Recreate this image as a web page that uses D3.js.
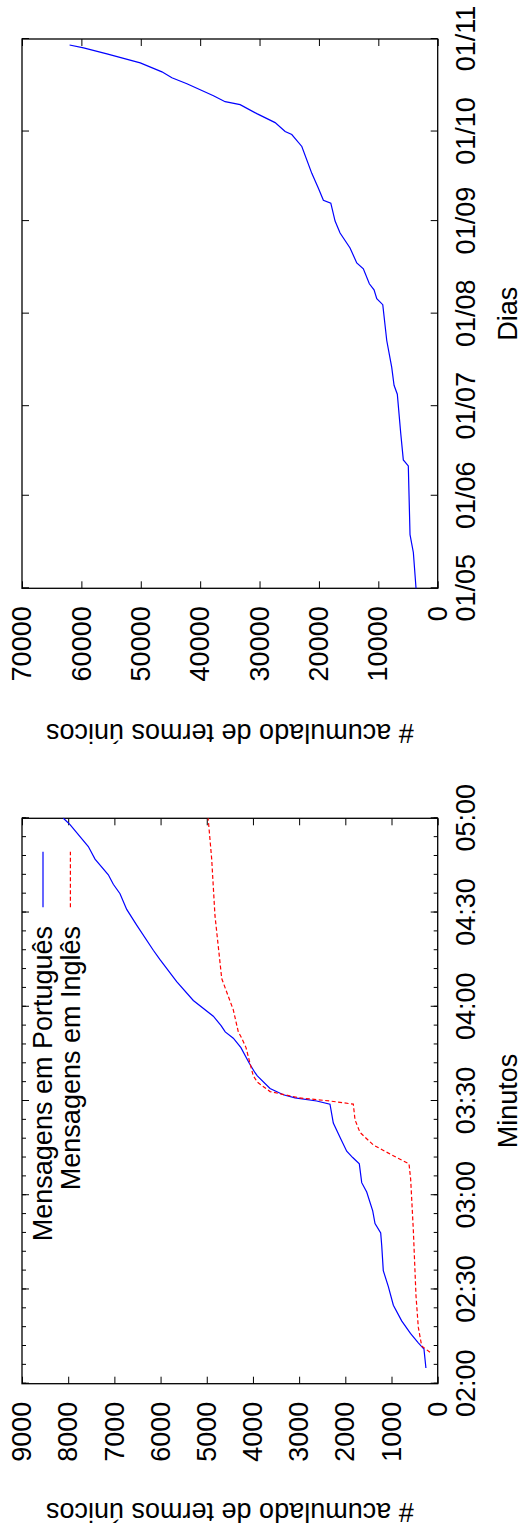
<!DOCTYPE html>
<html>
<head>
  <title>Termos unicos acumulados</title>
  <script src="https://d3js.org/d3.v7.min.js"></script>
  <style>
  body { margin: 0; background: #fff; }
  svg { display: block; }
  text { font-family: 'Liberation Sans', Arial, Helvetica, sans-serif; font-size: 27px; fill: #000; }
  .tick line { stroke: #000; stroke-width: 1; }
  .tick text { font-size: 27px; }
  .frame { fill: none; stroke: #000; stroke-width: 1.3; }
  line.pt, path.pt { stroke: #0000ff; stroke-width: 1.2; fill: none; }
  line.en, path.en { stroke: #ff0000; stroke-width: 1.2; fill: none; stroke-dasharray: 4 2.5; }
  </style>
</head>
<body>
<svg id="chart"></svg>
<script>
  // minutos: mensagens em portugues
  var ptTimes = ["02:05","02:11","02:13","02:16","02:20","02:25","02:31","02:36","02:44","02:48",
    "02:51","02:55","03:01","03:04","03:10","03:12","03:14","03:18","03:23","03:29",
    "03:30","03:31","03:32","03:34","03:38","03:39","03:42","03:47","03:50","03:52",
    "03:54","03:57","04:02","04:08","04:15","04:18","04:26","04:31","04:36","04:39",
    "04:42","04:47","04:51","04:58","05:00"];
  var ptValues = [255,297,420,590,780,960,1070,1178,1212,1234,
    1357,1407,1537,1645,1697,1840,1970,2100,2260,2332,
    2620,3090,3343,3630,3905,3955,4079,4260,4425,4600,
    4690,4858,5291,5651,6012,6157,6517,6733,6878,7023,
    7131,7419,7564,7960,8105];

  // minutos: mensagens em ingles
  var enTimes = ["02:10","02:12","02:18","02:28","02:49","03:05","03:10","03:12","03:16","03:20",
    "03:24","03:29","03:30","03:31","03:33","03:36","03:38","03:42","03:47","03:50",
    "03:52","03:59","04:09","04:29","04:47","05:00"];
  var enValues = [167,346,420,470,528,585,621,888,1394,1682,
    1790,1827,2332,3000,3630,3905,3992,4064,4150,4243,
    4317,4425,4676,4822,4893,4970];

  // dias
  var dayDates = ["2009-05-01","2009-05-13","2009-05-19","2009-06-11","2009-06-13","2009-06-22",
    "2009-07-05","2009-07-08","2009-07-14","2009-07-23","2009-08-04","2009-08-06","2009-08-09",
    "2009-08-11","2009-08-16","2009-08-18","2009-08-23","2009-08-28","2009-09-01","2009-09-07",
    "2009-09-08","2009-09-12","2009-09-17","2009-09-26","2009-09-30","2009-10-01","2009-10-04",
    "2009-10-07","2009-10-10","2009-10-11","2009-10-13","2009-10-17","2009-10-19","2009-10-21",
    "2009-10-24","2009-10-27","2009-10-29","2009-10-30"];
  var dayValues = [3650,4100,4660,4950,5790,6230,
    6800,7350,7740,8580,9250,10260,10720,
    11510,12520,13630,14760,16440,17280,18000,
    19250,20090,21200,22880,24570,25690,27380,
    30460,33270,35790,37760,42230,44760,46440,
    50090,55700,59630,61990];

  var minuteTicks = ["02:00","02:30","03:00","03:30","04:00","04:30","05:00"];
  var dayTicks = ["2009-05-01","2009-06-01","2009-07-01","2009-08-01","2009-09-01","2009-10-01","2009-11-01"];
  var legendLabels = ["Mensagens em Português", "Mensagens em Inglês"];
  var yLabel = "# acumulado de termos únicos";

  var W = 1526, H = 523;
  var parseHM = d3.timeParse("%H:%M");
  var parseDay = d3.timeParse("%Y-%m-%d");
  var translate = function (x, y) { return "translate(" + x + "," + y + ")"; };

  var svg = d3.select("#chart").attr("width", H).attr("height", W);
  svg.append("rect").attr("width", H).attr("height", W).attr("fill", "#fff");

  // the page is drawn in landscape and turned a quarter counter-clockwise
  var page = svg.append("g").attr("transform", translate(0, W) + " rotate(-90)");

  var plotTop = 22, plotBottom = 437.7;

  function drawPanel(opt) {
    var g = page.append("g");
    var x = d3.scaleTime().domain(opt.xDomain).range([opt.left, opt.right]);
    var y = d3.scaleLinear().domain([0, opt.yMax]).range([plotBottom, plotTop]);
    var yTicks = d3.range(0, opt.yMax + 1, opt.yStep);

    g.append("g").attr("transform", translate(opt.left, 0))
      .call(d3.axisLeft(y).tickValues(yTicks).tickFormat(d3.format("d"))
        .tickSizeInner(-7).tickSizeOuter(0).tickPadding(18));
    g.append("g").attr("transform", translate(opt.right, 0))
      .call(d3.axisRight(y).tickValues(yTicks).tickFormat("").tickSizeInner(-7).tickSizeOuter(0));

    g.append("g").attr("transform", translate(0, plotBottom))
      .call(d3.axisBottom(x).tickValues(opt.xTicks).tickFormat(opt.xFormat)
        .tickSizeInner(-7).tickSizeOuter(0).tickPadding(18));
    g.append("g").attr("transform", translate(0, plotTop))
      .call(d3.axisTop(x).tickValues(opt.xTicks).tickFormat("").tickSizeInner(-7).tickSizeOuter(0));

    if (opt.minor) {
      g.append("g").attr("transform", translate(0, plotBottom))
        .call(d3.axisBottom(x).tickValues(opt.minor).tickFormat("").tickSizeInner(-4).tickSizeOuter(0));
      g.append("g").attr("transform", translate(0, plotTop))
        .call(d3.axisTop(x).tickValues(opt.minor).tickFormat("").tickSizeInner(-4).tickSizeOuter(0));
    }
    g.selectAll(".domain").remove();
    g.selectAll(".tick text").attr("font-family", null).attr("font-size", null);

    g.append("rect").attr("class", "frame")
      .attr("x", opt.left).attr("y", plotTop)
      .attr("width", opt.right - opt.left).attr("height", plotBottom - plotTop);

    var line = d3.line().x(function (d) { return x(d[0]); }).y(function (d) { return y(d[1]); });
    opt.series.forEach(function (s) {
      g.append("path").attr("class", s.cls).attr("d", line(s.data));
    });

    g.append("text").attr("x", (opt.left + opt.right) / 2).attr("y", 516.7)
      .attr("text-anchor", "middle").text(opt.xLabel);
    g.append("text").attr("transform", translate(opt.yLabelX, (plotTop + plotBottom) / 2) + " rotate(-90)")
      .attr("text-anchor", "middle").text(yLabel);
    return g;
  }

  var ptData = ptTimes.map(function (t, i) { return [parseHM(t), ptValues[i]]; });
  var enData = enTimes.map(function (t, i) { return [parseHM(t), enValues[i]]; });
  var dayData = dayDates.map(function (t, i) { return [parseDay(t), dayValues[i]]; });

  var minor = d3.timeMinute.every(6).range(parseHM("02:00"), parseHM("05:01"));

  var gm = drawPanel({
    left: 142.3, right: 707.7,
    xDomain: [parseHM("02:00"), parseHM("05:00")],
    xTicks: minuteTicks.map(parseHM), xFormat: d3.timeFormat("%H:%M"), minor: minor,
    yMax: 9000, yStep: 1000,
    series: [{ cls: "pt", data: ptData }, { cls: "en", data: enData }],
    xLabel: "Minutos", yLabelX: 23
  });

  drawPanel({
    left: 937.7, right: 1487,
    xDomain: [parseDay("2009-05-01"), parseDay("2009-11-01")],
    xTicks: dayTicks.map(parseDay), xFormat: d3.timeFormat("%d/%m"),
    yMax: 70000, yStep: 10000,
    series: [{ cls: "pt", data: dayData }],
    xLabel: "Dias", yLabelX: 802
  });

  // legenda
  var key = gm.append("g");
  ["pt", "en"].forEach(function (c, i) {
    var ky = 43 + i * 27.4;
    key.append("text").attr("x", 600).attr("y", ky).attr("dy", "0.35em")
      .attr("text-anchor", "end").text(legendLabels[i]);
    key.append("line").attr("class", c)
      .attr("x1", 618.7).attr("x2", 674.3).attr("y1", ky).attr("y2", ky);
  });
</script>
</body>
</html>
